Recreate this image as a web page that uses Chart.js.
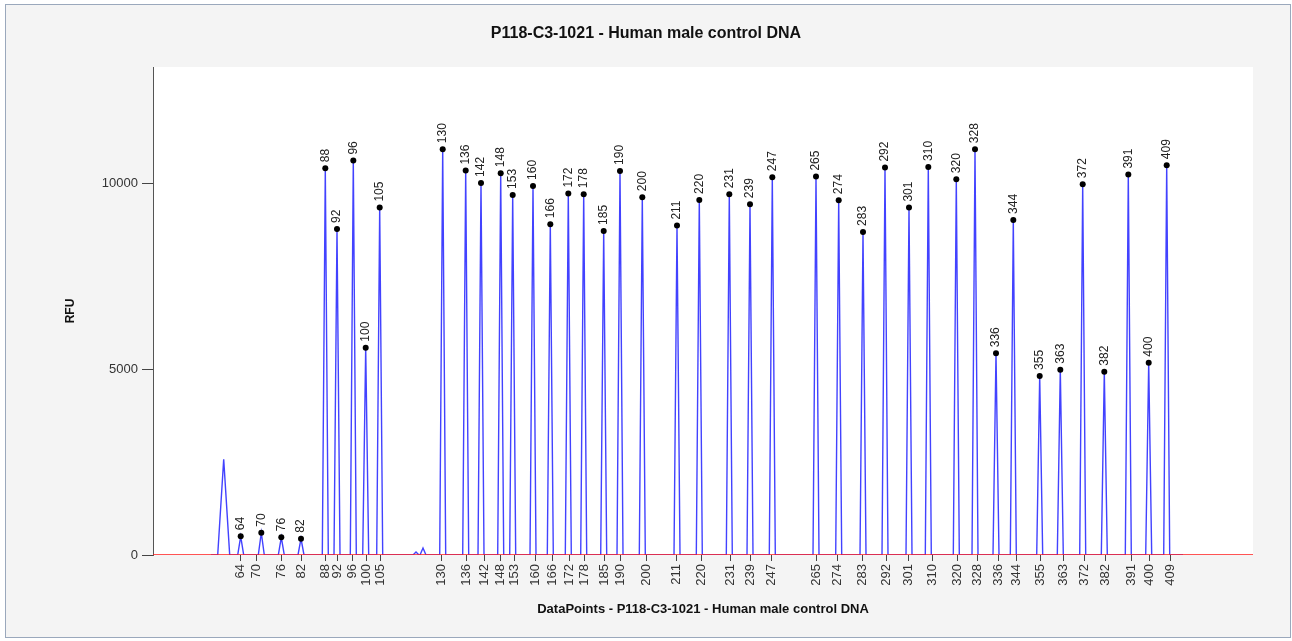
<!DOCTYPE html>
<html>
<head>
<meta charset="utf-8">
<title>P118-C3-1021 - Human male control DNA</title>
<script src="https://cdn.jsdelivr.net/npm/chart.js@4.4.1/dist/chart.umd.min.js"></script>
<style>
  html, body { margin: 0; padding: 0; background: #ffffff; }
  #frame { position: absolute; left: 5px; top: 4px; width: 1284px; height: 632px;
           border: 1px solid #9aa8bc; background: #f4f4f4; }
  #chart { position: absolute; left: 0; top: 0; }
</style>
</head>
<body>
<div id="frame"></div>
<canvas id="chart" width="1292" height="641"></canvas>
<script>
// fragment sizes (labels) and where the expected size sits on the DataPoints axis
const sizeLabels = [64, 70, 76, 82, 88, 92, 96, 100, 105, 130, 136, 142, 148, 153, 160, 166, 172, 178, 185, 190, 200,
  211, 220, 231, 239, 247, 265, 274, 283, 292, 301, 310, 320, 328, 336, 344, 355, 363, 372, 382, 391, 400, 409];
const tickPos = [87.7, 103.7, 128.7, 148.3, 172, 184.3, 199.7, 213, 227, 288.5, 313.5, 331, 347, 361, 382, 399.3, 416,
  431, 451.3, 467.3, 493, 523.7, 548, 577, 597, 618.7, 663, 684.5, 709.3, 733.7, 755.3, 779, 804.3, 824.7, 845, 863.7,
  887.3, 910.3, 931.3, 952.3, 978, 996, 1017.7];

// called peaks: position and height (RFU)
const peakPos = [87.7, 108.3, 128.3, 148, 172.3, 184, 200.3, 212.7, 226.7, 289.7, 312.7, 328, 347.7, 359.7, 380, 397.3,
  415.3, 430.7, 450.7, 467, 489.3, 524, 546.3, 576.3, 597, 619.3, 663, 685.7, 710, 732, 756, 775.3, 803.3, 822, 843,
  860.3, 886.7, 907.3, 929.7, 951.3, 975.3, 995.7, 1013.7];
const peakRFU = [504, 601, 477, 439, 10423, 8787, 10628, 5588, 9361, 10935, 10358, 10027, 10288, 9704, 9946, 8914,
  9739, 9722, 8733, 10350, 9642, 8876, 9569, 9722, 9453, 10181, 10197, 9561, 8706, 10439, 9361, 10458, 10127, 10935,
  5437, 9030, 4825, 4995, 9992, 4941, 10251, 5183, 10504];

// uncalled peaks in the trace
const extraPos = [70.7, 263, 270];
const extraRFU = [2580, 80, 190];
const extraHalfBase = [6, 3, 3];
const peakHalfBase = 3;
const traceStart = 58;
const traceEnd = 1030;

const yTicks = [0, 5000, 10000];

// {{{ trace
let peaks = [];
for (let i = 0; i < peakPos.length; i++)
{
  peaks.push({x: peakPos[i], y: peakRFU[i], w: peakHalfBase});
}
for (let i = 0; i < extraPos.length; i++)
{
  peaks.push({x: extraPos[i], y: extraRFU[i], w: extraHalfBase[i]});
}
peaks.sort((a, b) => a.x - b.x);
let trace = [{x: traceStart, y: 0}];
for (let p of peaks)
{
  trace.push({x: p.x - p.w, y: 0});
  trace.push({x: p.x, y: p.y});
  trace.push({x: p.x + p.w, y: 0});
}
trace.push({x: traceEnd, y: 0});
let dots = peakPos.map((v, i) => ({x: v, y: peakRFU[i]}));
let baseline = [{x: 0, y: 0}, {x: 1100, y: 0}];
// }}}

const FONT = "'Liberation Sans', Arial, sans-serif";

// {{{ plugins
const plotBg =
{
  id: 'plotBg',
  beforeDraw(chart)
  {
    const a = chart.chartArea;
    const ctx = chart.ctx;
    ctx.save();
    ctx.fillStyle = '#ffffff';
    ctx.fillRect(a.left, a.top, a.right - a.left, a.bottom - a.top);
    ctx.restore();
  }
};
const peakLabels =
{
  id: 'peakLabels',
  afterDatasetsDraw(chart)
  {
    const ctx = chart.ctx;
    const meta = chart.getDatasetMeta(1);
    ctx.save();
    ctx.font = '12px ' + FONT;
    ctx.fillStyle = '#222';
    ctx.textAlign = 'left';
    ctx.textBaseline = 'middle';
    meta.data.forEach((pt, i) =>
    {
      ctx.save();
      ctx.translate(pt.x, pt.y - 6);
      ctx.rotate(-Math.PI / 2);
      ctx.fillText(String(sizeLabels[i]), 0, 0);
      ctx.restore();
    });
    ctx.restore();
  }
};
// }}}

new Chart(document.getElementById('chart'),
{
  type: 'line',
  data:
  {
    datasets:
    [
      {data: baseline, order: 0, borderColor: '#ff1a1a', borderWidth: 1.6, pointRadius: 0, tension: 0, fill: false},
      {data: dots, order: 1, showLine: false, pointRadius: 3, pointBackgroundColor: '#000', pointBorderColor: '#000', pointBorderWidth: 0},
      {data: trace, order: 2, borderColor: 'rgba(45,45,255,0.9)', borderWidth: 1.4, pointRadius: 0, tension: 0, fill: false}
    ]
  },
  options:
  {
    responsive: false,
    animation: false,
    events: [],
    layout: {padding: 0},
    plugins:
    {
      legend: {display: false},
      tooltip: {enabled: false},
      title:
      {
        display: true,
        text: 'P118-C3-1021 - Human male control DNA',
        color: '#111',
        font: {family: FONT, size: 16, weight: 'bold'},
        padding: {top: 24, bottom: 23.8}
      }
    },
    scales:
    {
      x:
      {
        type: 'linear',
        min: 0,
        max: 1100,
        afterBuildTicks: (scale) => { scale.ticks = tickPos.map((v) => ({value: v})); },
        afterFit: (scale) => { scale.height = 86; },
        ticks:
        {
          autoSkip: false,
          maxRotation: 90,
          minRotation: 90,
          padding: 3,
          color: '#333',
          font: {family: FONT, size: 13},
          callback: (v, i) => String(sizeLabels[i])
        },
        grid: {drawOnChartArea: false, drawTicks: true, tickLength: 6, color: '#444'},
        border: {display: false},
        title:
        {
          display: true,
          text: 'DataPoints - P118-C3-1021 - Human male control DNA',
          color: '#111',
          font: {family: FONT, size: 13, weight: 'bold'},
          padding: {top: 0, bottom: 24}
        }
      },
      y:
      {
        type: 'linear',
        min: 0,
        max: 13150,
        afterBuildTicks: (scale) => { scale.ticks = yTicks.map((v) => ({value: v})); },
        afterFit: (scale) => { scale.width = 153; },
        ticks: {padding: 4, color: '#333', font: {family: FONT, size: 13}, callback: (v) => String(v)},
        grid: {drawOnChartArea: false, drawTicks: true, tickLength: 11, color: '#444'},
        border: {display: true, color: '#555', width: 1},
        title:
        {
          display: true,
          text: 'RFU',
          color: '#111',
          font: {family: FONT, size: 12, weight: 'bold'},
          padding: {top: 63, bottom: 0}
        }
      },
      right:
      {
        type: 'linear',
        position: 'right',
        display: true,
        afterFit: (scale) => { scale.width = 39; },
        ticks: {display: false},
        grid: {display: false},
        border: {display: false}
      }
    }
  },
  plugins: [plotBg, peakLabels]
});
</script>
</body>
</html>
